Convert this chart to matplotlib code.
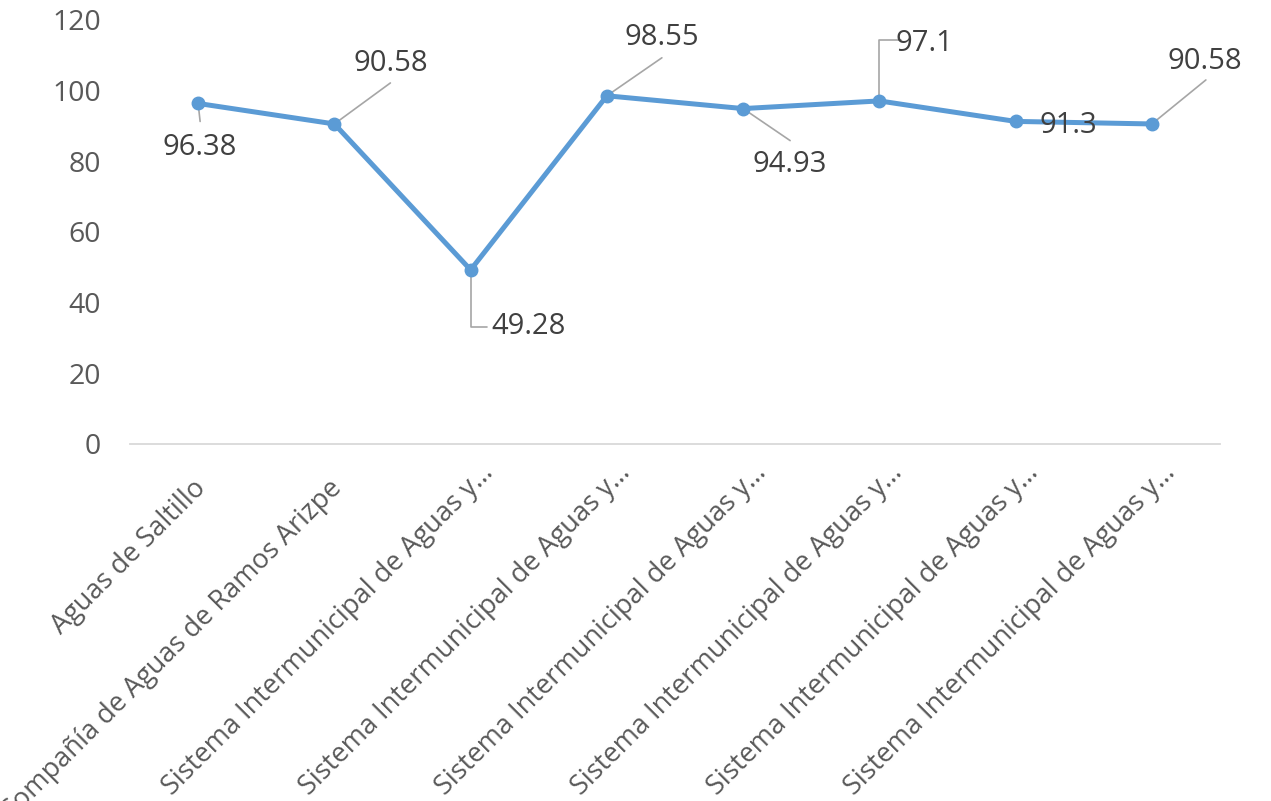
import matplotlib
matplotlib.use("Agg")
import matplotlib.pyplot as plt
import matplotlib.transforms as mtransforms

categories = [
    "Aguas de Saltillo",
    "Compañía de Aguas de Ramos Arizpe",
    "Sistema Intermunicipal de Aguas y…",
    "Sistema Intermunicipal de Aguas y…",
    "Sistema Intermunicipal de Aguas y…",
    "Sistema Intermunicipal de Aguas y…",
    "Sistema Intermunicipal de Aguas y…",
    "Sistema Intermunicipal de Aguas y…",
]
values = [96.38, 90.58, 49.28, 98.55, 94.93, 97.1, 91.3, 90.58]
value_labels = ["96.38", "90.58", "49.28", "98.55", "94.93", "97.1", "91.3", "90.58"]
yticks = [0, 20, 40, 60, 80, 100, 120]

# label placement: (text offset px, leader end offset px, leader style)
label_text_off = [(2, -44), (56, 60), (58, -57), (55, 58), (47, -56), (45, 57), (53, -4), (53, 62)]
leader_end_off = [(2, -18), (56, 41), (16, -57), (55, 38), (47, -32), (22, 61), None, (54, 44)]
leader_style = ["arc3", "arc3", "angle,angleA=0,angleB=90,rad=0", "arc3", "arc3",
                "angle,angleA=0,angleB=90,rad=0", None, "arc3"]
# category label shift (px) from tick position
cat_shift = [(4, -40), (4, -40)] + [(19, -25)] * 6

plt.rcParams['font.family'] = ['Open Sans', 'DejaVu Sans']

fig = plt.figure(figsize=(12.71, 8.01), dpi=100)
ax = fig.add_axes([130 / 1271, 1 - 444 / 801, 1090 / 1271, 424 / 801])

line_color = "#5B9BD5"
x = list(range(len(values)))
ax.plot(x, values, color=line_color, lw=3.6, marker="o", ms=9, solid_capstyle="round", zorder=3)

ax.set_xlim(-0.5, len(values) - 0.5)
ax.set_ylim(0, 120)
ax.set_yticks(yticks)
ax.set_yticklabels([str(v) for v in yticks])

for s in ["left", "right", "top"]:
    ax.spines[s].set_visible(False)
ax.spines["bottom"].set_color("#D9D9D9")
ax.spines["bottom"].set_linewidth(1.3)
ax.tick_params(axis="y", length=0, pad=21, labelsize=20.5, labelcolor="#595959")
ax.tick_params(axis="x", length=0, pad=0, labelsize=19.5, labelcolor="#595959")

ax.set_xticks(x)
ax.set_xticklabels(categories, rotation=45, ha="right", va="center", rotation_mode="anchor")
for lab, (sx, sy) in zip(ax.get_xticklabels(), cat_shift):
    offset = mtransforms.ScaledTranslation(sx / 100, sy / 100, fig.dpi_scale_trans)
    lab.set_transform(lab.get_transform() + offset)

for i, v in enumerate(values):
    tx, ty = label_text_off[i]
    ax.annotate(value_labels[i], xy=(i, v), xytext=(tx, ty), textcoords="offset pixels",
                ha="center", va="center", fontsize=21, color="#404040", zorder=4)
    if leader_end_off[i] is not None:
        ex, ey = leader_end_off[i]
        ax.annotate("", xy=(i, v), xytext=(ex, ey), textcoords="offset pixels",
                    arrowprops=dict(arrowstyle="-", color="#A6A6A6", lw=1.2,
                                    connectionstyle=leader_style[i],
                                    shrinkA=0, shrinkB=0), zorder=2)

fig.savefig("out.png", dpi=100, facecolor="white")
